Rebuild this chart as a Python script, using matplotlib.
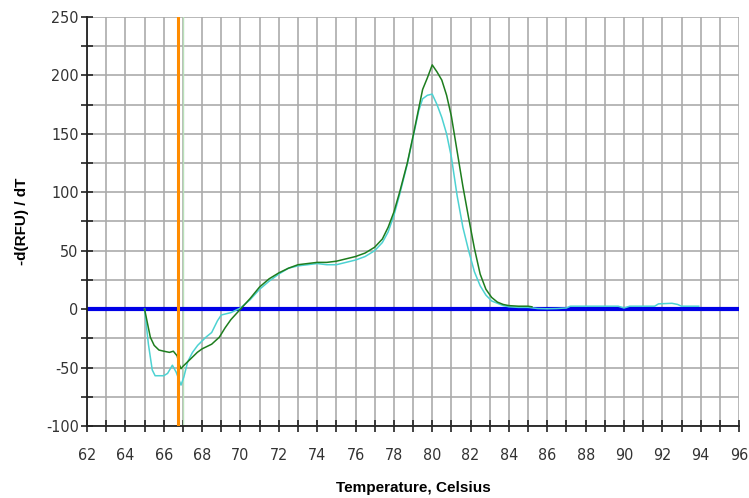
import matplotlib
matplotlib.use("Agg")
import matplotlib.pyplot as plt
from matplotlib.ticker import MultipleLocator

# melt curve data (temperature in Celsius, -d(RFU)/dT)
green_t = [65.0, 65.15, 65.3, 65.5, 65.75, 66.0, 66.3, 66.5, 66.7, 66.8, 66.9, 67.0,
           67.25, 67.5, 67.75, 68.0, 68.5, 68.9, 69.2, 69.5, 70.0, 70.5, 71.0, 71.5,
           72.0, 72.5, 73.0, 73.5, 74.0, 74.5, 75.0, 75.5, 76.0, 76.5, 77.0, 77.4,
           77.7, 78.0, 78.3, 78.7, 79.0, 79.3, 79.5, 79.75, 80.0, 80.25, 80.5, 80.75,
           81.0, 81.3, 81.6, 81.9, 82.2, 82.5, 82.8, 83.1, 83.4, 83.7, 84.0, 84.5,
           85.0, 85.2]
green_v = [0, -12, -24, -31, -35, -36, -37, -36, -40, -47, -51, -49,
           -45, -41, -37, -34, -30, -24, -16, -9, 0, 9, 19, 26,
           31, 35, 38, 39, 40, 40, 41, 43, 45, 48, 53, 60,
           70, 83, 100, 125, 148, 172, 188, 198, 209, 203, 196, 183,
           165, 135, 105, 78, 52, 30, 17, 10, 6, 4, 3, 2.5,
           2.5, 2]

cyan_t = [65.0, 65.2, 65.4, 65.55, 66.0, 66.2, 66.45, 66.65, 66.9, 67.05, 67.25, 67.5,
          67.77, 68.2, 68.5, 68.8, 69.0, 69.5, 70.0, 70.5, 71.0, 71.5, 72.0, 72.5,
          73.0, 73.5, 74.0, 74.5, 75.0, 75.5, 76.0, 76.5, 77.0, 77.4, 77.7, 78.0,
          78.3, 78.7, 79.0, 79.3, 79.5, 79.75, 80.0, 80.25, 80.5, 80.75, 81.0, 81.3,
          81.6, 81.9, 82.2, 82.5, 82.8, 83.1, 83.4, 83.7, 84.0, 84.5, 85.0, 85.5,
          86.0, 86.5, 87.0, 87.2, 88.0, 89.0, 89.7, 90.0, 90.3, 91.0, 91.6, 91.8,
          92.5, 92.8, 93.0, 93.9]
cyan_v = [0, -30, -52, -57, -57, -55, -48, -54, -65, -58, -45, -37,
          -31, -24, -20, -10, -5, -3, 1, 8, 17, 24, 30, 35,
          37, 38, 39, 38, 38, 40, 42, 45, 50, 57, 66, 80,
          98, 124, 147, 170, 180, 183, 184, 175, 164, 150, 130, 97,
          70, 50, 32, 20, 12, 7, 5, 3, 2, 1.5, 1.5, 0.5,
          0.3, 0.5, 1, 2.5, 2.5, 2.5, 2.5, 1, 2.5, 2.5, 2.5, 4.5,
          5, 4, 2.5, 2.5]

threshold = 0
marker_temp = 66.72
x_range = (62, 96)
y_range = (-100, 250)

plt.rcParams['axes.unicode_minus'] = False

fig = plt.figure(figsize=(7.49, 4.98), dpi=100)
ax = fig.add_axes([0.1162, 0.1446, 0.8705, 0.8213])

ax.axhline(threshold, color='#0000e6', linewidth=3, zorder=2)
ax.axvline(67, color='#b8e0b8', linewidth=1.0, zorder=1.5)
ax.plot(green_t, green_v, color='#1e7d1e', linewidth=1.1, zorder=4)
ax.plot(cyan_t, cyan_v, color='#4dd2d2', linewidth=1.1, zorder=3)
ax.axvline(marker_temp, color='#ff8c00', linewidth=2.2, zorder=5)

ax.set_xlim(*x_range)
ax.set_ylim(*y_range)
ax.xaxis.set_major_locator(MultipleLocator(2))
ax.xaxis.set_minor_locator(MultipleLocator(1))
ax.yaxis.set_major_locator(MultipleLocator(50))
ax.yaxis.set_minor_locator(MultipleLocator(25))
ax.grid(which='both', color='#ababab', linewidth=1.2, zorder=0)
ax.set_axisbelow(True)

for s in ['top', 'right']:
    ax.spines[s].set_visible(False)
for s in ['left', 'bottom']:
    ax.spines[s].set_color('#222222')
    ax.spines[s].set_linewidth(1.3)

ax.tick_params(which='both', direction='inout', length=8, width=1.2, color='#222222')
ax.tick_params(axis='x', which='major', pad=12)
ax.tick_params(axis='y', which='major', pad=2)

for lab in ax.get_xticklabels() + ax.get_yticklabels():
    lab.set_family('DejaVu Sans')
    lab.set_stretch('condensed')
    lab.set_fontsize(11.5)
    lab.set_color('#333333')

ax.set_xlabel('Temperature, Celsius', fontsize=11, fontweight='bold',
              family=['Liberation Sans', 'DejaVu Sans'])
ax.set_ylabel('-d(RFU) / dT', fontsize=11, fontweight='bold',
              family=['Liberation Sans', 'DejaVu Sans'])
ax.xaxis.set_label_coords(0.5, -0.152)
ax.yaxis.set_label_coords(-0.099, 0.5)
ax.xaxis.label.set_va('center')
ax.yaxis.label.set_va('center')

fig.savefig('out.png', dpi=100)
